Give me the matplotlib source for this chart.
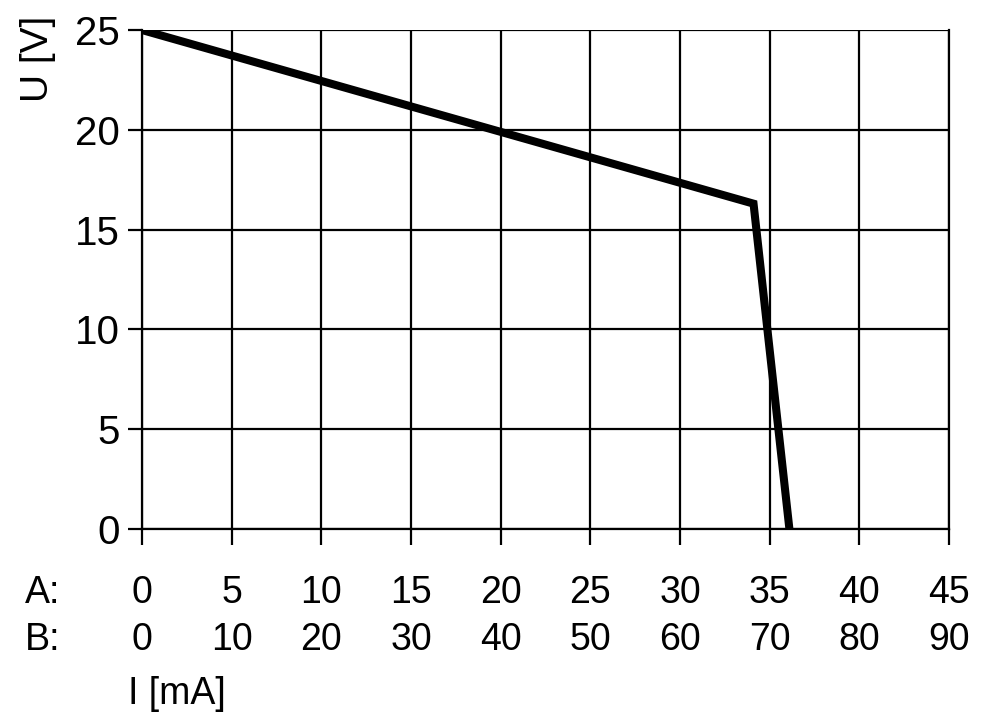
import matplotlib.pyplot as plt
import matplotlib.transforms as mtransforms

plt.rcParams['font.family'] = ['Liberation Sans', 'DejaVu Sans']

# characteristic curve (current on scale A, voltage)
current_a = [0, 34.1, 36.1]
voltage = [25, 16.3, 0]

scale_a = [0, 5, 10, 15, 20, 25, 30, 35, 40, 45]
scale_b = [0, 10, 20, 30, 40, 50, 60, 70, 80, 90]
volt_ticks = [0, 5, 10, 15, 20, 25]

fig = plt.figure(figsize=(10, 7.2), dpi=100)
ax = fig.add_axes([0.142, 0.2653, 0.807, 0.6930])

ax.plot(current_a, voltage, color='black', linewidth=5.8,
        solid_joinstyle='miter', solid_capstyle='round', zorder=3)

ax.set_xlim(0, 45)
ax.set_ylim(0, 25)
ax.set_xticks(scale_a)
ax.set_yticks(volt_ticks)
ax.set_xticklabels([])
ax.set_yticklabels([str(v) for v in volt_ticks], fontsize=29)
ax.tick_params(axis='x', direction='out', length=11.5, width=1.6, color='black')
ax.tick_params(axis='y', direction='out', length=10, width=1.6, color='black', pad=6)
ax.grid(True, color='black', linewidth=1.6)
for side in ['left', 'bottom', 'right', 'top']:
    ax.spines[side].set_linewidth(1.6)
ax.spines['top'].set_visible(False)

# two current scales below the axis
trans = mtransforms.blended_transform_factory(ax.transData, fig.transFigure)
for a, b in zip(scale_a, scale_b):
    ax.text(a, 1 - 593 / 720, str(a), transform=trans, ha='center', va='center',
            fontsize=27)
    ax.text(b / 2, 1 - 640 / 720, str(b), transform=trans, ha='center', va='center',
            fontsize=27)

fig.text(0.043, 1 - 593 / 720, 'A:', ha='center', va='center', fontsize=27)
fig.text(0.043, 1 - 640 / 720, 'B:', ha='center', va='center', fontsize=27)
fig.text(0.128, 1 - 694 / 720, 'I [mA]', ha='left', va='center', fontsize=27)
fig.text(0.038, 1 - 59 / 720, 'U [V]', ha='center', va='center', fontsize=28,
         rotation=90)

fig.savefig('out.png', dpi=100)
